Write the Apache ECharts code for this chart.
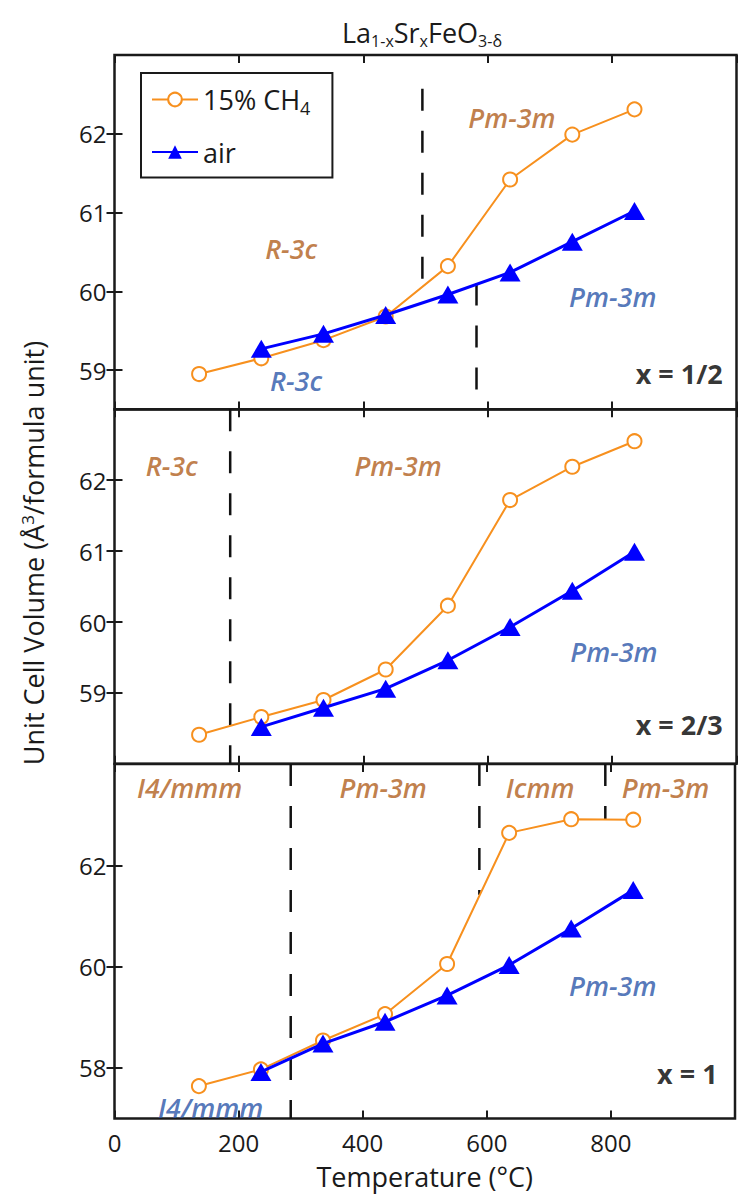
<!DOCTYPE html>
<html><head><meta charset="utf-8">
<script src="https://cdn.jsdelivr.net/npm/echarts@6/dist/echarts.min.js"></script>
<style>html,body{margin:0;padding:0;background:#fff}#c{width:738px;height:1198px}</style>
</head><body><div id="c"></div>
<script>
// ---------- data ----------
const temps = [136, 236, 336, 436, 536, 636, 736, 836];
const airTemps = [236, 336, 436, 536, 636, 736, 836];

const ch4Half = [58.95, 59.15, 59.38, 59.68, 60.32, 61.42, 61.99, 62.31];
const airHalf = [59.27, 59.46, 59.70, 59.96, 60.24, 60.63, 61.02];
const ch4TwoThirds = [58.41, 58.66, 58.90, 59.33, 60.23, 61.72, 62.19, 62.55];
const airTwoThirds = [58.52, 58.79, 59.06, 59.46, 59.93, 60.44, 60.99];
const ch4One = [57.64, 57.97, 58.54, 59.06, 60.05, 62.64, 62.91, 62.90];
const airOne = [57.92, 58.48, 58.91, 59.43, 60.03, 60.75, 61.51];

const xTicks = [0, 200, 400, 600, 800];
const yTicksHalf = [59, 60, 61, 62];
const yTicksTwoThirds = [59, 60, 61, 62];
const yTicksOne = [58, 60, 62];

// phase boundaries: [temperature, lower volume, upper volume]
const boundsHalf = [[495, 60.06, 62.57], [582, 58.5, 60.10]];
const boundsTwoThirds = [[186, 58.0, 63.0]];
const boundsOne = [[284, 57.0, 64.0], [588, 61.42, 64.0], [791, 62.90, 64.0]];

// phase labels: [text, temperature, volume, atmosphere]
const phasesHalf = [['Pm-3m', 639, 62.21, 'ch4'], ['R-3c', 284, 60.55, 'ch4'], ['Pm-3m', 801, 59.93, 'air'], ['R-3c', 292, 58.87, 'air']];
const phasesTwoThirds = [['R-3c', 92, 62.21, 'ch4'], ['Pm-3m', 456, 62.21, 'ch4'], ['Pm-3m', 803, 59.58, 'air']];
const phasesOne = [['I4/mmm', 121, 63.53, 'ch4'], ['Pm-3m', 433, 63.53, 'ch4'], ['Icmm', 686, 63.53, 'ch4'], ['Pm-3m', 888, 63.53, 'ch4'], ['Pm-3m', 803, 59.63, 'air'], ['I4/mmm', 155, 57.22, 'air']];

const panelTags = ['x = 1/2', 'x = 2/3', 'x = 1'];
const tagPos = [[978, 58.96], [978, 58.55], [972, 57.89]];
const yRanges = [[58.5, 63], [58, 63], [57, 64]];

// ---------- styling ----------
const FONT = 'Open Sans';
const ORANGE = '#F7901E';
const BLUE = '#0000FF';
const ORANGE_TXT = '#B05E1C';
const BLUE_TXT = '#2A55A8';
const INK = '#1a1a1a';

const panels = [
  {ch4: ch4Half, air: airHalf, yTicks: yTicksHalf, bounds: boundsHalf, phases: phasesHalf},
  {ch4: ch4TwoThirds, air: airTwoThirds, yTicks: yTicksTwoThirds, bounds: boundsTwoThirds, phases: phasesTwoThirds},
  {ch4: ch4One, air: airOne, yTicks: yTicksOne, bounds: boundsOne, phases: phasesOne}
];
const gridTops = [55, 409.3, 764];
const gridH = 354.5;

const grid = [], xAxis = [], yAxis = [], series = [];
const tickStyle = {show: true, inside: true, length: 8, lineStyle: {color: INK, width: 2}};

panels.forEach((p, i) => {
  grid.push({left: 114.5, right: 1.5, top: gridTops[i], height: gridH, show: true,
    borderColor: INK, borderWidth: 2.5, backgroundColor: 'transparent', containLabel: false});
  const xBase = {gridIndex: i, type: 'value', min: 0, max: 1000, interval: 200,
    axisLine: {show: false}, splitLine: {show: false}, axisTick: tickStyle};
  xAxis.push(Object.assign({}, xBase, {position: 'bottom',
    axisLabel: {show: i === 2, fontFamily: FONT, fontSize: 24, color: INK, margin: 12,
      formatter: v => (xTicks.indexOf(v) >= 0 ? String(v) : '')},
    name: i === 2 ? 'Temperature (°C)' : '', nameLocation: 'middle', nameGap: 44,
    nameTextStyle: {fontFamily: FONT, fontSize: 27, color: INK}}));
  xAxis.push(Object.assign({}, xBase, {position: 'top', axisLabel: {show: false}}));
  const yBase = {gridIndex: i, type: 'value', min: yRanges[i][0], max: yRanges[i][1],
    axisLine: {show: false}, splitLine: {show: false},
    axisTick: Object.assign({}, tickStyle, {customValues: p.yTicks})};
  yAxis.push(Object.assign({}, yBase, {position: 'left',
    axisLabel: {customValues: p.yTicks, fontFamily: FONT, fontSize: 24, color: INK, margin: 8}}));
  yAxis.push(Object.assign({}, yBase, {position: 'right', axisLabel: {show: false}}));

  p.bounds.forEach(b => {
    series.push({type: 'line', xAxisIndex: 2 * i, yAxisIndex: 2 * i, silent: true,
      symbol: 'none', z: 2, data: [[b[0], b[2]], [b[0], b[1]]],
      lineStyle: {color: '#111', width: 2.5, type: [22, 20]}});
  });
  series.push({name: '15% CH4', type: 'line', xAxisIndex: 2 * i, yAxisIndex: 2 * i, z: 3,
    data: temps.map((t, k) => [t, p.ch4[k]]),
    symbol: 'emptyCircle', symbolSize: 14,
    itemStyle: {color: ORANGE, borderWidth: 2},
    lineStyle: {color: ORANGE, width: 2}});
  series.push({name: 'air', type: 'line', xAxisIndex: 2 * i, yAxisIndex: 2 * i, z: 4,
    data: airTemps.map((t, k) => [t, p.air[k]]),
    symbol: 'triangle', symbolSize: [21, 18],
    itemStyle: {color: BLUE},
    lineStyle: {color: BLUE, width: 3}});
  const ann = p.phases.map(ph => ({value: [ph[1], ph[2]],
    label: {show: true, formatter: ph[0], position: [0, 0], align: 'center', verticalAlign: 'middle',
      fontFamily: FONT, fontStyle: 'italic', fontWeight: 600, fontSize: 27,
      color: ph[3] === 'ch4' ? ORANGE_TXT : BLUE_TXT}}));
  ann.push({value: tagPos[i], label: {show: true, formatter: panelTags[i], position: [0, 0],
    align: 'right', verticalAlign: 'middle', fontFamily: FONT, fontWeight: 'bold', fontSize: 27, color: '#000'}});
  series.push({type: 'scatter', xAxisIndex: 2 * i, yAxisIndex: 2 * i, z: 5, silent: true,
    symbolSize: 0, data: ann});
});

const option = {
  animation: false,
  backgroundColor: '#fff',
  title: {text: '{m|La}{s|1-x}{m|Sr}{s|x}{m|FeO}{s|3-δ}', left: 337, top: 11,
    textStyle: {fontFamily: FONT, fontSize: 27, fontWeight: 'normal', color: INK,
      rich: {m: {fontFamily: FONT, fontSize: 27, color: INK},
             s: {fontFamily: FONT, fontSize: 16, color: INK, padding: [17, 0, 0, 0]}}}},
  legend: {data: ['15% CH4', 'air'], orient: 'vertical', left: 141, top: 73, selectedMode: false,
    backgroundColor: '#fff', borderColor: INK, borderWidth: 2, padding: [13, 22, 12, 10],
    itemWidth: 46, itemHeight: 17, itemGap: 22,
    formatter: n => (n === '15% CH4' ? '{m|15% CH}{s|4}' : '{m|' + n + '}'),
    textStyle: {fontFamily: FONT, fontSize: 27, color: INK,
      rich: {m: {fontFamily: FONT, fontSize: 27, color: INK},
             s: {fontFamily: FONT, fontSize: 18, color: INK, padding: [16, 0, 0, 0]}}}},
  graphic: [{type: 'text', x: 33, y: 553, rotation: Math.PI / 2,
    style: {text: 'Unit Cell Volume (Å{p|3}/formula unit)', fontFamily: FONT, fontSize: 27, fill: INK,
      align: 'center', verticalAlign: 'middle',
      rich: {p: {fontFamily: FONT, fontSize: 17, fill: INK, padding: [0, 0, 12, 0]}}}}],
  grid, xAxis, yAxis, series
};
const chart = echarts.init(document.getElementById('c'), null, {renderer: 'svg'});
chart.setOption(option);
</script>
</body></html>
